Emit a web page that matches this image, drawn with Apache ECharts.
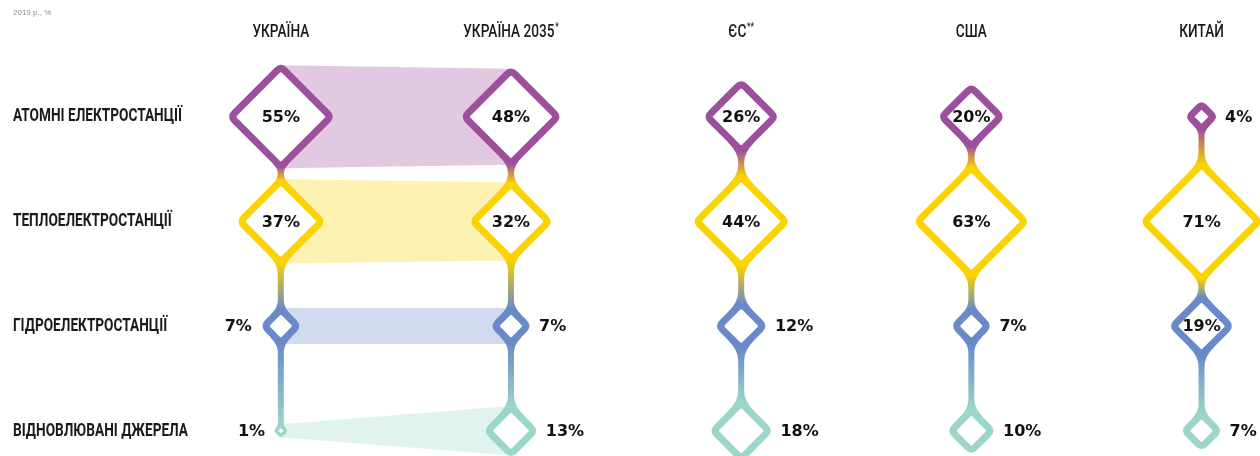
<!DOCTYPE html>
<html><head><meta charset="utf-8">
<script src="https://cdn.jsdelivr.net/npm/echarts@6/dist/echarts.min.js"></script>
<style>html,body{margin:0;padding:0;background:#fff}#c{width:1260px;height:456px}</style>
</head><body><div id="c"></div>
<script>
// ---- data ----
const columns = ['УКРАЇНА', 'УКРАЇНА 2035', 'ЄС', 'США', 'КИТАЙ'];
const columnMarks = ['', '*', '**', '', ''];
const rows = ['АТОМНІ ЕЛЕКТРОСТАНЦІЇ', 'ТЕПЛОЕЛЕКТРОСТАНЦІЇ', 'ГІДРОЕЛЕКТРОСТАНЦІЇ', 'ВІДНОВЛЮВАНІ ДЖЕРЕЛА'];
const ukraine = [55, 37, 7, 1];
const ukraine2035 = [48, 32, 7, 13];
const eu = [26, 44, 12, 18];
const usa = [20, 63, 7, 10];
const china = [4, 71, 19, 7];
const note = '2019 р., %';

// ---- styles ----
const rowColors = ['#9c4f9c', '#fad300', '#6a89c8', '#9bd6ca'];
const bandColors = ['rgba(156,79,156,0.30)', 'rgba(250,211,0,0.30)', 'rgba(106,137,200,0.31)', 'rgba(155,214,202,0.30)'];
const LABEL_FONT = 'bold 16px "DejaVu Sans", sans-serif';
const COND_SIZE = 19;
const COND_FONT = 'bold ' + COND_SIZE + 'px Roboto, sans-serif';

const columnValues = [ukraine, ukraine2035, eu, usa, china];

// horizontal compression for the condensed caption font
const mctx = document.createElement('canvas').getContext('2d');
mctx.font = COND_FONT;
const condense = 169 / mctx.measureText(rows[0]).width;

const K = 0.0669;
function halfOf(api, v) { return api.size([0, 1])[1] * K * Math.sqrt(v) - 2; }
function strokeOf(h) { return Math.min(7, h * 0.7); }

function diamondPath(cx, cy, h, r) {
  const V = [[cx, cy - h], [cx + h, cy], [cx, cy + h], [cx - h, cy]];
  const t = Math.min(0.45, r / (h * Math.SQRT2));
  let d = '';
  for (let i = 0; i < 4; i++) {
    const p = V[(i + 3) % 4], c = V[i], n = V[(i + 1) % 4];
    const a = [c[0] + (p[0] - c[0]) * t, c[1] + (p[1] - c[1]) * t];
    const b = [c[0] + (n[0] - c[0]) * t, c[1] + (n[1] - c[1]) * t];
    d += (i === 0 ? 'M' : 'L') + a[0] + ' ' + a[1] + ' Q' + c[0] + ' ' + c[1] + ' ' + b[0] + ' ' + b[1] + ' ';
  }
  return d + 'Z';
}

const diamondData = [];
columnValues.forEach((vals, c) => vals.forEach((v, r) => diamondData.push([c, r, v])));
const stemData = [];
columnValues.forEach((vals, c) => { for (let r = 0; r < vals.length - 1; r++) stemData.push([c, r, vals[r], vals[r + 1]]); });
const bandData = rows.map((_, r) => [0, r, ukraine[r], ukraine2035[r]]);

const chart = echarts.init(document.getElementById('c'));
chart.setOption({
  animation: false,
  backgroundColor: '#fff',
  grid: { left: 0, top: 0, right: 0, bottom: 0 },
  // column index axis and row index axis (value axes so the chart can run past the frame edge)
  xAxis: { type: 'value', min: -1.22, max: 4.254, show: false },
  yAxis: { type: 'value', min: -1.115, max: 3.241, inverse: true, show: false },
  graphic: [{ type: 'text', left: 13, top: 9, style: { text: note, fontSize: 8, fill: '#8a8a8a', font: '8px "DejaVu Sans"' } }],
  series: [
    { // bands between Україна and Україна 2035
      type: 'custom', clip: false, data: bandData, encode: { x: 0, y: 1 }, z: 1,
      renderItem(params, api) {
        const r = api.value(1);
        const p0 = api.coord([0, r]), p1 = api.coord([1, r]);
        const h0 = halfOf(api, api.value(2)) + 1.5, h1 = halfOf(api, api.value(3)) + 1.5;
        return { type: 'polygon', shape: { points: [[p0[0], p0[1] - h0], [p1[0], p1[1] - h1], [p1[0], p1[1] + h1], [p0[0], p0[1] + h0]] },
          style: { fill: bandColors[r] } };
      }
    },
    { // stems between diamonds
      type: 'custom', clip: false, data: stemData, encode: { x: 0, y: 1 }, z: 2,
      renderItem(params, api) {
        const c = api.value(0), r = api.value(1);
        const a = api.coord([c, r]), b = api.coord([c, r + 1]);
        const cx = a[0];
        const h1 = halfOf(api, api.value(2)), h2 = halfOf(api, api.value(3));
        const oA = strokeOf(h1) / 2 * Math.SQRT2, oB = strokeOf(h2) / 2 * Math.SQRT2;
        const yA = a[1] + h1, yB = b[1] - h2;
        const w = 3;
        const gap = yB - yA;
        const lim = Math.max(1.5, gap / 2 - Math.max(oA - w, oB - w, 0));
        const FA = Math.max(1, Math.min(10, h1 * 0.45, lim));
        const FB = Math.max(1, Math.min(10, h2 * 0.45, lim));
        const qA = yA + oA - w, qB = yB - oB + w;
        const d = [
          'M', cx - w - FA, qA - FA, 'Q', cx - w, qA, cx - w, qA + FA,
          'L', cx - w, qB - FB, 'Q', cx - w, qB, cx - w - FB, qB + FB,
          'L', cx + w + FB, qB + FB, 'Q', cx + w, qB, cx + w, qB - FB,
          'L', cx + w, qA + FA, 'Q', cx + w, qA, cx + w + FA, qA - FA, 'Z'
        ].join(' ');
        return { type: 'path', shape: { pathData: d },
          style: { fill: new echarts.graphic.LinearGradient(0, yA, 0, yB, [
            { offset: 0, color: rowColors[r] }, { offset: 1, color: rowColors[r + 1] }], true) } };
      }
    },
    { // diamonds with value labels
      type: 'custom', clip: false, data: diamondData, encode: { x: 0, y: 1 }, z: 3,
      renderItem(params, api) {
        const c = api.value(0), r = api.value(1), v = api.value(2);
        const p = api.coord([c, r]);
        const h = halfOf(api, v), s = strokeOf(h);
        const outer = h + s / 2;
        let tx = p[0], align = 'center';
        if (v < 19) {
          if (c === 0) { tx = p[0] - outer - 9; align = 'right'; }
          else { tx = p[0] + outer + 8; align = 'left'; }
        }
        return { type: 'group', children: [
          { type: 'path', shape: { pathData: diamondPath(p[0], p[1], h, Math.min(5, h * 0.3)) },
            style: { fill: '#fff', stroke: rowColors[r], lineWidth: s, lineJoin: 'round' } },
          { type: 'text', x: tx, y: p[1] + 1, style: { text: v + '%', font: LABEL_FONT, fill: '#111', align: align, verticalAlign: 'middle' } }
        ] };
      }
    },
    { // row captions
      type: 'custom', clip: false, data: rows.map((_, r) => [0, r]), encode: { x: 0, y: 1 }, z: 4,
      renderItem(params, api) {
        const r = api.value(1);
        const p = api.coord([0, r]);
        return { type: 'text', x: 13, y: p[1], scaleX: condense,
          style: { text: rows[r], font: COND_FONT, fill: '#1a1a1a', align: 'left', verticalAlign: 'middle' } };
      }
    },
    { // column headers
      type: 'custom', clip: false, data: columns.map((_, c) => [c, 0]), encode: { x: 0, y: 1 }, z: 4,
      renderItem(params, api) {
        const c = api.value(0);
        const p = api.coord([c, 0]);
        const m = columnMarks[c];
        return { type: 'text', x: p[0], y: 32, scaleX: condense,
          style: { text: columns[c] + (m ? '{s|' + m + '}' : ''), font: '500 ' + COND_SIZE + 'px Roboto, sans-serif', fill: '#1a1a1a', align: 'center', verticalAlign: 'middle',
            rich: { s: { font: '500 11px Roboto, sans-serif', fill: '#1a1a1a', padding: [0, 0, 9, 1] } } } };
      }
    }
  ]
});
</script></body></html>
